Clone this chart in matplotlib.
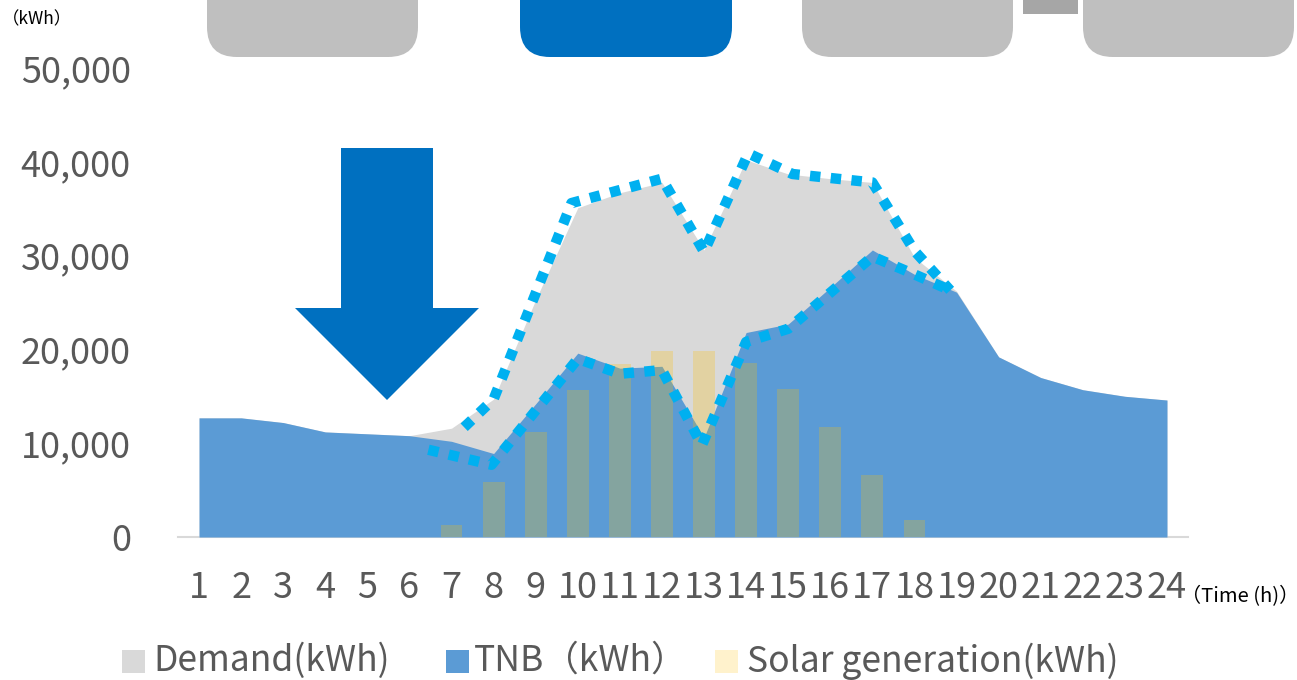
import numpy as np
import matplotlib
matplotlib.use("Agg")
import matplotlib.pyplot as plt
from matplotlib.patches import FancyBboxPatch, Polygon, Rectangle

plt.rcParams["font.family"] = ["Noto Sans CJK JP", "DejaVu Sans"]

# data
hours = list(range(1, 25))
demand = [12700, 12700, 12200, 11200, 11000, 10800, 11600, 14700, 25300, 35100, 36700, 37800,
          30600, 40200, 38700, 38200, 37800, 29800, 26200, 19200, 17000, 15700, 15000, 14600]
tnb = [12700, 12700, 12200, 11200, 11000, 10800, 10200, 8900, 14200, 19600, 18000, 18200,
       10600, 21800, 22700, 26600, 30600, 28000, 26100, 19200, 17000, 15700, 15000, 14600]
solar = [0, 0, 0, 0, 0, 0, 1300, 5900, 11200, 15700, 18400, 19800,
         19800, 18500, 15800, 11700, 6600, 1800, 0, 0, 0, 0, 0, 0]

# highlighted outlines (dotted)
upper_x = [7.3, 8.0, 9.85, 12.0, 13.0, 14.05, 15.1, 17.0, 18.0, 18.85]
upper_y = [11700, 14700, 35600, 38200, 30400, 40900, 38700, 37800, 30500, 26300]
lower_x = [6.45, 7.95, 10.0, 11.0, 12.0, 12.95, 14.0, 15.0, 17.0, 18.0, 18.85]
lower_y = [9300, 7700, 19000, 17400, 17800, 9800, 20800, 22200, 29900, 28000, 26300]

labels = ["Demand(kWh)", "TNB（kWh）", "Solar generation(kWh)"]
legend_colors = ["#d9d9d9", "#5b9bd5", "#fff2cc"]
yticks = [0, 10000, 20000, 30000, 40000, 50000]

TXT = "#595959"
W, H = 1297, 680
fig = plt.figure(figsize=(W / 100, H / 100), dpi=100)
ax = fig.add_axes([178 / W, 1 - 537 / H, (1188 - 178) / W, (537 - 68) / H])

ax.fill_between(hours, demand, color="#d9d9d9", lw=0, zorder=1)
ax.fill_between(hours, tnb, color="#5b9bd5", lw=0, zorder=2)
ax.bar(hours, solar, width=0.52, color="#ffc000", alpha=0.25, lw=0, zorder=3)
for xs, ys in [(upper_x, upper_y), (lower_x, lower_y)]:
    ax.plot(xs, ys, color="#00b0f0", lw=7.5, ls=(0, (1, 1)), zorder=5)

ax.set_xlim(0.5, 24.5)
ax.set_ylim(0, 50000)
ax.set_yticks(yticks)
ax.set_yticklabels([f"{v:,}" for v in yticks])
ax.set_xticks(hours)
ax.set_xticklabels([str(h) for h in hours])
ax.tick_params(length=0, labelsize=26, colors=TXT)
ax.tick_params(axis="y", pad=34)
ax.tick_params(axis="x", pad=24)
for s in ["top", "right", "left"]:
    ax.spines[s].set_visible(False)
ax.spines["bottom"].set_color("#d9d9d9")
ax.spines["bottom"].set_linewidth(1.5)
ax.spines["bottom"].set_zorder(0)

# decorative overlay in pixel coords
ov = fig.add_axes([0, 0, 1, 1], zorder=10)
ov.set_xlim(0, W)
ov.set_ylim(H, 0)
ov.axis("off")
for x0, x1, col in [(207, 418, "#bfbfbf"), (520, 732, "#0070c0"), (802, 1013, "#bfbfbf"), (1083, 1294, "#bfbfbf")]:
    ov.add_patch(FancyBboxPatch((x0, -60), x1 - x0, 117, boxstyle="round,pad=0,rounding_size=30",
                                fc=col, ec="none"))
ov.add_patch(Rectangle((1023, 0), 55, 14, fc="#a6a6a6", ec="none"))
ov.add_patch(Polygon([(341, 148), (433, 148), (433, 308), (479, 308), (387, 400),
                      (295, 308), (341, 308)], closed=True, fc="#0070c0", ec="none"))
ov.text(2, 19, "（kWh）", fontsize=12.5, color="black", va="center", ha="left")
ov.text(1181, 597, "（Time (h)）", fontsize=14.5, color="black", va="center", ha="left")

# legend (manual, to match spacing)
for sx, tx, lab, col in zip([122, 446, 715], [153, 474, 747], labels, legend_colors):
    ov.add_patch(Rectangle((sx, 650), 23, 23, fc=col, ec="none"))
    ov.text(tx, 661, lab, fontsize=25.5, color=TXT, va="center", ha="left")

fig.savefig("out.png", dpi=100)
